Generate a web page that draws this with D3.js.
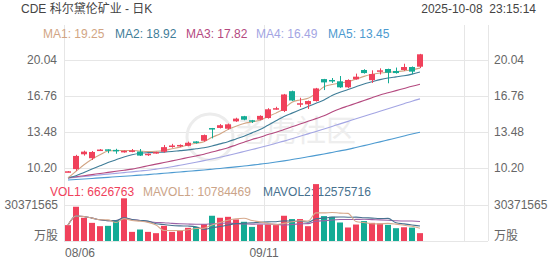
<!DOCTYPE html>
<html>
<head>
<meta charset="utf-8">
<script src="https://cdn.jsdelivr.net/npm/d3@7"></script>
<style>
body { margin: 0; background: #fff; }
svg text { font-family: "Liberation Sans", Arial, "Noto Sans CJK SC", sans-serif; }
</style>
</head>
<body>
<div id="chart"></div>
<script>
// trading days shown (MM/DD)
const dates = ["08/06","08/07","08/08","08/11","08/12","08/13","08/14","08/15","08/18","08/19","08/20","08/21","08/22","08/25","08/26","08/27","08/28","08/29",
  "09/02","09/03","09/04","09/05","09/08","09/09","09/10","09/11","09/12","09/15","09/16","09/17","09/18","09/19","09/22","09/23","09/24","09/25","09/26",
  "09/29","09/30","10/01","10/02","10/03","10/06","10/07","10/08"];

const opens  = [9.84,10.1,11.45,11.09,11.8,11.9,11.85,11.72,11.76,11.7,11.38,11.55,11.68,12.2,12.18,12.22,12.62,12.68,13.84,13.85,13.78,14.45,14.92,14.55,14.6,14.75,15.6,15.4,17.2,15.98,16.0,16.3,18.3,18.22,18.1,17.55,18.28,19.13,18.2,19.0,19.22,19.04,19.13,19.4,19.43];
const closes = [9.9,11.3,11.69,11.66,11.88,11.87,11.82,11.76,11.8,11.33,11.5,11.65,12.1,12.25,12.3,12.5,12.58,13.2,13.78,14.1,14.18,14.7,14.6,14.42,14.95,15.55,15.65,16.9,16.35,16.1,16.3,17.45,18.0,18.18,17.55,18.22,18.52,18.85,18.76,19.1,18.88,18.85,19.4,18.98,20.56];
const highs  = [9.92,11.4,11.78,11.75,11.93,11.9,11.95,11.8,11.93,11.93,11.52,11.68,12.3,12.4,12.35,12.6,12.64,13.25,13.85,14.2,14.25,14.78,14.95,14.58,15.0,15.65,15.78,16.95,17.25,16.6,16.35,17.5,18.32,18.4,18.58,18.28,18.8,19.2,19.1,19.28,19.25,19.35,19.7,19.45,20.6];
const lows   = [9.82,9.95,11.33,10.93,11.78,11.55,11.5,11.6,11.63,11.3,11.3,11.5,11.6,12.05,12.1,12.18,12.42,12.6,12.9,13.8,13.7,14.4,14.55,14.3,14.55,14.7,15.52,15.3,16.3,15.75,15.58,16.25,17.3,17.95,17.5,17.48,18.25,18.8,17.95,18.72,17.92,18.8,19.05,18.75,19.3];

const volumes = [13400000,28900000,19600000,15300000,12500000,12800000,17600000,36000000,7700000,9700000,7700000,6600000,12800000,7700000,9100000,
  11100000,11900000,14200000,21300000,19600000,20400000,18200000,16200000,11900000,13900000,13900000,13400000,21300000,18500000,18500000,
  12500000,48000000,21000000,20400000,15600000,11400000,13900000,16800000,15300000,14800000,13600000,10800000,11600000,11300000,6626763];

// moving averages (they include days before 08/06)
const ma1 = [9.3,9.9,10.5,11.0,11.4,11.75,11.8,11.8,11.8,11.75,11.7,11.72,11.8,11.95,12.1,12.3,12.45,12.6,13.0,13.3,13.7,14.0,14.25,14.4,14.55,14.9,15.2,15.6,16.2,16.4,16.55,17.0,17.6,17.8,17.95,18.05,18.3,18.55,18.74,18.85,18.92,18.97,19.05,19.15,19.3];
const ma2 = [9.32,9.5,9.8,10.1,10.4,10.7,10.95,11.2,11.4,11.54,11.6,11.63,11.65,11.7,11.78,11.85,11.95,12.05,12.2,12.4,12.6,12.85,13.1,13.4,13.7,14.1,14.5,14.9,15.2,15.5,15.8,16.1,16.4,16.8,17.1,17.35,17.6,17.85,18.05,18.25,18.4,18.5,18.6,18.75,18.95];
const ma3 = [9.3,9.4,9.5,9.6,9.7,9.8,9.9,10.0,10.1,10.25,10.4,10.55,10.7,10.85,11.0,11.15,11.3,11.45,11.65,11.85,12.05,12.3,12.55,12.8,13.0,13.25,13.45,13.7,13.95,14.2,14.45,14.7,14.95,15.3,15.6,15.85,16.1,16.35,16.6,16.85,17.05,17.25,17.45,17.65,17.83];
const ma4 = [9.28,9.35,9.42,9.5,9.57,9.64,9.71,9.78,9.85,9.93,10.0,10.1,10.2,10.32,10.45,10.58,10.72,10.87,11.02,11.18,11.35,11.52,11.7,11.88,12.06,12.25,12.45,12.65,12.87,13.09,13.31,13.53,13.76,13.99,14.22,14.45,14.68,14.91,15.14,15.37,15.6,15.83,16.06,16.29,16.5];
const ma5 = [9.1,9.15,9.2,9.25,9.3,9.35,9.4,9.45,9.5,9.55,9.6,9.66,9.72,9.78,9.84,9.9,9.96,10.02,10.09,10.16,10.23,10.3,10.38,10.46,10.55,10.64,10.74,10.85,10.97,11.09,11.22,11.35,11.48,11.62,11.76,11.9,12.07,12.24,12.41,12.58,12.76,12.94,13.12,13.3,13.46];

const maLabels = ["MA1: 19.25","MA2: 18.92","MA3: 17.82","MA4: 16.49","MA5: 13.45"];
const volLabels = ["VOL1: 6626763","MAVOL1: 10784469","MAVOL2: 12575716"];
const priceTicks = [10.20, 13.48, 16.76, 20.04];
const volTick = 30371565;
const dateTicks = [0, 25];

const width = 552, height = 265;
const up = "#f0415b", down = "#14ab95";

const svg = d3.select("#chart")
  .append("svg")
  .attr("width", width)
  .attr("height", height);

// x: one slot per trading day, plot runs a few empty slots past the last day
const x = d3.scaleBand()
  .domain(d3.range(53))
  .range([64, 488])
  .paddingInner(0.25)
  .paddingOuter(0.125);
const cx = i => x(i) + x.bandwidth() / 2;
const slotLeft = i => x(i) - x.step() * 0.125;

const y = d3.scaleLinear().domain([10.20, 20.04]).range([168, 60]);
const yv = d3.scaleLinear().domain([0, volTick]).range([241, 205]);

// grid
const grid = svg.append("g").attr("stroke", "#e6e6e6").attr("stroke-width", 1);
grid.selectAll(".hp")
  .data(priceTicks)
  .join("line")
    .attr("x1", 64).attr("x2", 488)
    .attr("y1", d => Math.round(y(d)) + 0.5)
    .attr("y2", d => Math.round(y(d)) + 0.5);
grid.selectAll(".hv")
  .data([0, volTick])
  .join("line")
    .attr("x1", 64).attr("x2", 488)
    .attr("y1", d => Math.round(yv(d)) + 0.5)
    .attr("y2", d => Math.round(yv(d)) + 0.5);
grid.selectAll(".vl")
  .data([slotLeft(0), slotLeft(25), slotLeft(50), 488])
  .join("line")
    .attr("x1", d => Math.round(d) + 0.5).attr("x2", d => Math.round(d) + 0.5)
    .attr("y1", 25).attr("y2", 241);

// watermark
svg.append("circle")
  .attr("cx", 210).attr("cy", 137).attr("r", 23)
  .attr("fill", "none").attr("stroke", "#ececec").attr("stroke-width", 3);
svg.append("text")
  .attr("x", 236).attr("y", 141)
  .attr("font-size", 30)
  .attr("fill", "#eeeeee")
  .text("老虎社区");

// price axes
const fmt = d3.format(".2f");
svg.append("g")
  .attr("transform", "translate(64,0)")
  .call(d3.axisLeft(y).tickValues(priceTicks).tickSize(0).tickPadding(7).tickFormat(fmt))
  .call(g => g.select(".domain").remove())
  .selectAll("text").attr("font-size", 12).attr("fill", "#666").style("font-family", null);
svg.append("g")
  .attr("transform", "translate(488,0)")
  .call(d3.axisRight(y).tickValues(priceTicks).tickSize(0).tickPadding(6).tickFormat(fmt))
  .call(g => g.select(".domain").remove())
  .selectAll("text").attr("font-size", 12).attr("fill", "#666").style("font-family", null);

// volume axis labels
[[58, "end"], [494, "start"]].forEach(([tx, anchor]) => {
  svg.append("text").attr("x", tx).attr("y", yv(volTick)).attr("dy", "0.35em")
    .attr("text-anchor", anchor).attr("font-size", 12).attr("fill", "#666").text(volTick);
  svg.append("text").attr("x", tx).attr("y", 236).attr("dy", "0.35em")
    .attr("text-anchor", anchor).attr("font-size", 12).attr("fill", "#666").text("万股");
});

// date labels
svg.selectAll(".date")
  .data(dateTicks)
  .join("text")
    .attr("x", d => d === 0 ? slotLeft(d) + 1 : slotLeft(d))
    .attr("y", 253)
    .attr("dy", "0.35em")
    .attr("text-anchor", d => d === 0 ? "start" : "middle")
    .attr("font-size", 12)
    .attr("fill", "#666")
    .text(d => dates[d]);

// header
svg.append("text").attr("x", 21).attr("y", 9).attr("dy", "0.35em")
  .attr("font-size", 12).attr("fill", "#444").text("CDE 科尔黛伦矿业 - 日K");
svg.append("text").attr("x", 536).attr("y", 9).attr("dy", "0.35em")
  .attr("text-anchor", "end").attr("font-size", 12).attr("fill", "#444")
  .style("white-space", "pre").text("2025-10-08  23:15:14");

// MA legend
const maColors = ["#d2a584", "#3f7d98", "#b4497f", "#a3a5e3", "#4c9ad0"];
const maX = [43, 115, 186, 256, 328];
svg.selectAll(".malab")
  .data(maLabels)
  .join("text")
    .attr("x", (d, i) => maX[i])
    .attr("y", 34)
    .attr("dy", "0.35em")
    .attr("font-size", 12)
    .attr("fill", (d, i) => maColors[i])
    .text(d => d);

// volume legend
const volColors = [up, "#cba488", "#47718f"];
const volX = [50, 143, 263];
svg.selectAll(".vlab")
  .data(volLabels)
  .join("text")
    .attr("x", (d, i) => volX[i])
    .attr("y", 192)
    .attr("dy", "0.35em")
    .attr("font-size", 12)
    .attr("fill", (d, i) => volColors[i])
    .text(d => d);

const idx = d3.range(dates.length);
const isUp = i => closes[i] >= opens[i];

// MA lines
[ma5, ma4, ma3, ma2, ma1].forEach((ma, k) => {
  const line = d3.line()
    .x(i => cx(i))
    .y(i => y(ma[i]))
    .curve(d3.curveMonotoneX);
  svg.append("path")
    .datum(idx)
    .attr("fill", "none")
    .attr("stroke", maColors[4 - k])
    .attr("stroke-width", 1.1)
    .attr("d", line);
});

// candles
const candles = svg.append("g");
candles.selectAll("line")
  .data(idx)
  .join("line")
    .attr("x1", i => Math.round(cx(i)) + 0.5)
    .attr("x2", i => Math.round(cx(i)) + 0.5)
    .attr("y1", i => y(highs[i]))
    .attr("y2", i => y(lows[i]))
    .attr("stroke", i => isUp(i) ? up : down);
candles.selectAll("rect")
  .data(idx)
  .join("rect")
    .attr("x", i => x(i))
    .attr("width", x.bandwidth())
    .attr("y", i => y(Math.max(opens[i], closes[i])))
    .attr("height", i => Math.max(1.5, Math.abs(y(opens[i]) - y(closes[i]))))
    .attr("fill", i => isUp(i) ? up : down);

// volume bars
svg.append("g")
  .selectAll("rect")
  .data(idx)
  .join("rect")
    .attr("x", i => x(i))
    .attr("width", x.bandwidth())
    .attr("y", i => yv(volumes[i]))
    .attr("height", i => yv(0) - yv(volumes[i]))
    .attr("fill", i => isUp(i) ? up : down);

// volume moving averages (5, 10, 20 days; shorter window at the start)
const rolling = n => idx.map(i => d3.mean(volumes.slice(Math.max(0, i - n + 1), i + 1)));
[[20, "#9a62a6"], [10, "#47718f"], [5, "#d6a98c"]].forEach(([n, color]) => {
  const mv = rolling(n);
  svg.append("path")
    .datum(idx)
    .attr("fill", "none")
    .attr("stroke", color)
    .attr("stroke-width", 1.1)
    .attr("d", d3.line().x(i => cx(i)).y(i => yv(mv[i])).curve(d3.curveMonotoneX));
});
</script>
</body>
</html>
